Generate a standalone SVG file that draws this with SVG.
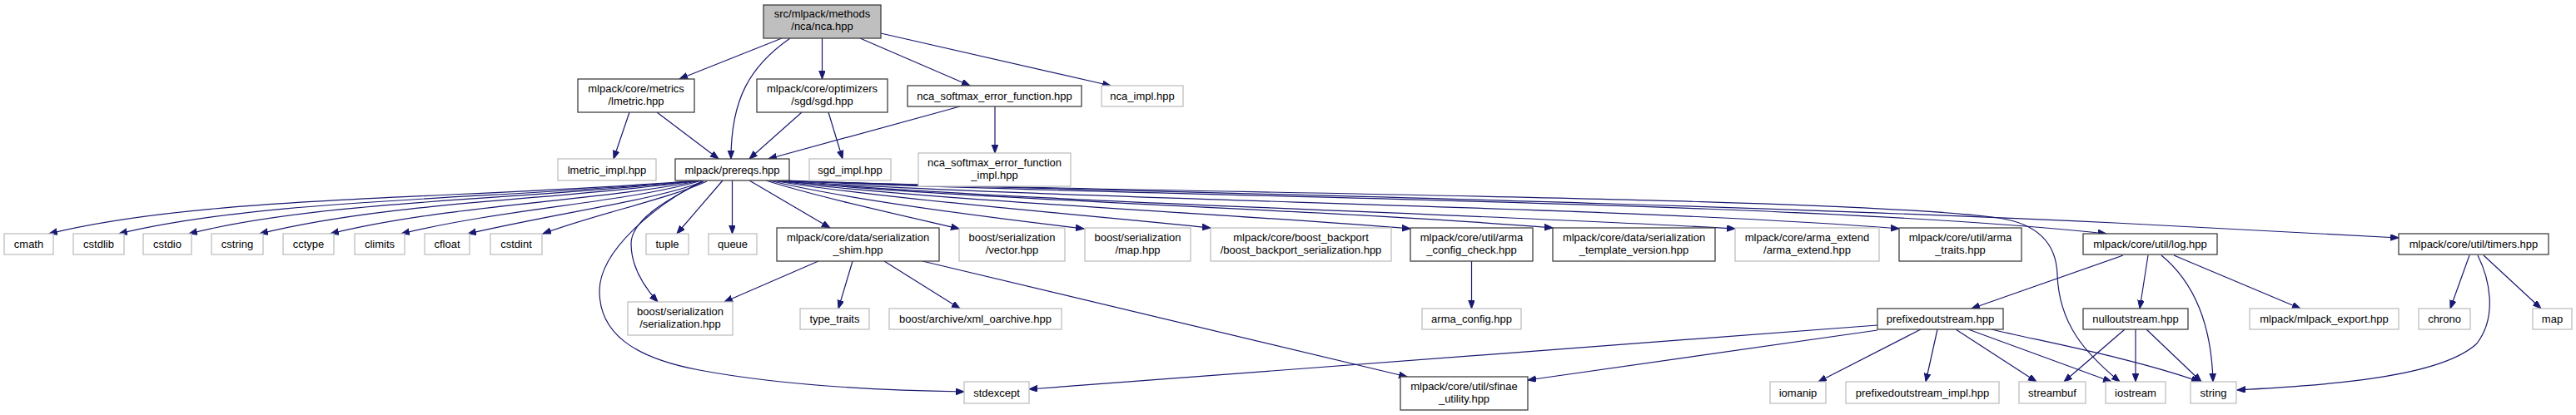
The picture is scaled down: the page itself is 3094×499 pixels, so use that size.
<svg xmlns="http://www.w3.org/2000/svg" width="3094" height="499" viewBox="0 0 3094 499">
<style>
.bg{fill:#ffffff}
.doc rect{fill:#ffffff;stroke:#404040;stroke-width:1.3}
.ext rect{fill:#ffffff;stroke:#bfbfbf;stroke-width:1.3}
.root rect{fill:#bfbfbf;stroke:#404040;stroke-width:1.3}
text{font-family:"Liberation Sans",Arial,sans-serif;font-size:13px;fill:#000000;text-anchor:middle}
#edges path{fill:none;stroke:#191970;stroke-width:1.2;marker-end:url(#ah)}
</style>
<defs>
<marker id="ah" markerWidth="12" markerHeight="9" refX="10" refY="3.8" orient="auto" markerUnits="userSpaceOnUse">
<path d="M0,0 L10,3.8 L0,7.6 z" fill="#191970" stroke="#191970" stroke-width="1"/>
</marker>
</defs>
<rect class="bg" x="0" y="0" width="3094" height="499"/>
<g id="edges">
<path d="M939,46 L816,95"/>
<path d="M949,46 C900,80 878,120 878,191"/>
<path d="M987.5,46 L987.5,95"/>
<path d="M1033,46 L1165,103"/>
<path d="M1058,40 L1334,103"/>
<path d="M756,135 L737,191"/>
<path d="M789,135 L863,191"/>
<path d="M963,135 L900,191"/>
<path d="M995,135 L1012,191"/>
<path d="M1153,128 L923,191"/>
<path d="M1195,128 L1195,184"/>
<path d="M838,217 C560,240 250,234 59,281"/>
<path d="M839,217 C600,240 320,238 143,281"/>
<path d="M840,217 C640,240 390,240 227,281"/>
<path d="M841,217 C680,240 470,242 312,281"/>
<path d="M842,217 C720,242 540,246 397,281"/>
<path d="M843,217 C750,244 610,250 482,281"/>
<path d="M845,218 C790,240 680,254 562,281"/>
<path d="M849,218 C800,240 720,256 652,281"/>
<path d="M845,218 C800,240 758,265 758,293 C758,320 772,343 790,363"/>
<path d="M843,218 C790,245 720,300 720,350 C720,400 760,430 840,445 C920,460 1020,469 1158,471"/>
<path d="M868,217 L813,281"/>
<path d="M879.5,217 L879.5,281"/>
<path d="M900,217 L997,274"/>
<path d="M920,217 C980,236 1070,256 1152,275"/>
<path d="M924,217 C1000,236 1150,257 1302,275"/>
<path d="M927,217 C1050,238 1300,258 1454,274"/>
<path d="M930,217 C1100,240 1450,255 1694,275"/>
<path d="M932,217 C1150,240 1600,252 1865,274"/>
<path d="M934,217 C1200,242 1800,258 2084,275"/>
<path d="M936,217 C1250,240 1950,248 2281,275"/>
<path d="M938,217 C1300,236 2150,240 2530,281"/>
<path d="M940,217 C1300,232 2200,235 2400,262 C2455,270 2470,300 2471,330 C2473,390 2505,425 2546,459"/>
<path d="M944,217 C1200,228 1900,238 2540,268 C2700,276 2800,281 2881,286"/>
<path d="M983,314 L870,363"/>
<path d="M1024,314 L1007,371"/>
<path d="M1062,314 L1153,371"/>
<path d="M1108,314 L1690,453"/>
<path d="M1767.5,314 L1767.5,371"/>
<path d="M2550,307 L2368,371"/>
<path d="M2580,307 L2570,371"/>
<path d="M2596,307 C2630,335 2656,380 2658,459"/>
<path d="M2611,307 L2763,371"/>
<path d="M2966,307 L2943,371"/>
<path d="M2983,307 L3052,371"/>
<path d="M2976,307 C2990,335 3000,380 2975,413 C2930,455 2790,463 2687,469"/>
<path d="M2255,391 L1236,468"/>
<path d="M2255,397 L1835,457"/>
<path d="M2307,396 L2184,459"/>
<path d="M2327,396 L2313,459"/>
<path d="M2349,396 L2446,459"/>
<path d="M2364,396 L2536,459"/>
<path d="M2392,396 C2450,410 2560,430 2642,459"/>
<path d="M2552,396 L2479,459"/>
<path d="M2565,396 L2565,459"/>
<path d="M2578,396 L2644,459"/>
</g>
<g id="n_root" class="root"><rect x="917" y="6" width="141" height="40"/><text x="987.5" y="21">src/mlpack/methods</text><text x="987.5" y="36">/nca/nca.hpp</text></g>
<g id="n_lmetric" class="doc"><rect x="694" y="95" width="140" height="40"/><text x="764" y="110.5">mlpack/core/metrics</text><text x="764" y="125.5">/lmetric.hpp</text></g>
<g id="n_sgd" class="doc"><rect x="909" y="95" width="157" height="40"/><text x="987.5" y="110.5">mlpack/core/optimizers</text><text x="987.5" y="125.5">/sgd/sgd.hpp</text></g>
<g id="n_ncasoft" class="doc"><rect x="1090" y="103" width="209" height="25"/><text x="1194.5" y="120">nca_softmax_error_function.hpp</text></g>
<g id="n_ncaimpl" class="ext"><rect x="1323" y="103" width="98" height="25"/><text x="1372" y="120">nca_impl.hpp</text></g>
<g id="n_lmetricimpl" class="ext"><rect x="670" y="191" width="118" height="26"/><text x="729" y="208.5">lmetric_impl.hpp</text></g>
<g id="n_prereqs" class="doc"><rect x="811" y="191" width="137" height="26"/><text x="879.5" y="208.5">mlpack/prereqs.hpp</text></g>
<g id="n_sgdimpl" class="ext"><rect x="972" y="191" width="98" height="26"/><text x="1021" y="208.5">sgd_impl.hpp</text></g>
<g id="n_ncasoftimpl" class="ext"><rect x="1103" y="184" width="183" height="40"/><text x="1194.5" y="199.5">nca_softmax_error_function</text><text x="1194.5" y="214.5">_impl.hpp</text></g>
<g id="n_cmath" class="ext"><rect x="5" y="281" width="59" height="25"/><text x="34.5" y="298">cmath</text></g>
<g id="n_cstdlib" class="ext"><rect x="88" y="281" width="61" height="25"/><text x="118.5" y="298">cstdlib</text></g>
<g id="n_cstdio" class="ext"><rect x="172" y="281" width="58" height="25"/><text x="201" y="298">cstdio</text></g>
<g id="n_cstring" class="ext"><rect x="254" y="281" width="62" height="25"/><text x="285" y="298">cstring</text></g>
<g id="n_cctype" class="ext"><rect x="340" y="281" width="61" height="25"/><text x="370.5" y="298">cctype</text></g>
<g id="n_climits" class="ext"><rect x="426" y="281" width="60" height="25"/><text x="456" y="298">climits</text></g>
<g id="n_cfloat" class="ext"><rect x="510" y="281" width="54" height="25"/><text x="537" y="298">cfloat</text></g>
<g id="n_cstdint" class="ext"><rect x="589" y="281" width="62" height="25"/><text x="620" y="298">cstdint</text></g>
<g id="n_tuple" class="ext"><rect x="776" y="281" width="51" height="25"/><text x="801.5" y="298">tuple</text></g>
<g id="n_queue" class="ext"><rect x="851" y="281" width="58" height="25"/><text x="880" y="298">queue</text></g>
<g id="n_shim" class="doc"><rect x="933" y="274" width="195" height="40"/><text x="1030.5" y="289.5">mlpack/core/data/serialization</text><text x="1030.5" y="304.5">_shim.hpp</text></g>
<g id="n_vector" class="ext"><rect x="1152" y="274" width="127" height="40"/><text x="1215.5" y="289.5">boost/serialization</text><text x="1215.5" y="304.5">/vector.hpp</text></g>
<g id="n_maphpp" class="ext"><rect x="1303" y="274" width="127" height="40"/><text x="1366.5" y="289.5">boost/serialization</text><text x="1366.5" y="304.5">/map.hpp</text></g>
<g id="n_backport" class="ext"><rect x="1454" y="274" width="217" height="40"/><text x="1562.5" y="289.5">mlpack/core/boost_backport</text><text x="1562.5" y="304.5">/boost_backport_serialization.hpp</text></g>
<g id="n_armacfgchk" class="doc"><rect x="1694" y="274" width="147" height="40"/><text x="1767.5" y="289.5">mlpack/core/util/arma</text><text x="1767.5" y="304.5">_config_check.hpp</text></g>
<g id="n_tmplver" class="doc"><rect x="1865" y="274" width="195" height="40"/><text x="1962.5" y="289.5">mlpack/core/data/serialization</text><text x="1962.5" y="304.5">_template_version.hpp</text></g>
<g id="n_armaext" class="ext"><rect x="2084" y="274" width="173" height="40"/><text x="2170.5" y="289.5">mlpack/core/arma_extend</text><text x="2170.5" y="304.5">/arma_extend.hpp</text></g>
<g id="n_armatraits" class="doc"><rect x="2281" y="274" width="147" height="40"/><text x="2354.5" y="289.5">mlpack/core/util/arma</text><text x="2354.5" y="304.5">_traits.hpp</text></g>
<g id="n_log" class="doc"><rect x="2502" y="281" width="161" height="25"/><text x="2582.5" y="298">mlpack/core/util/log.hpp</text></g>
<g id="n_timers" class="doc"><rect x="2881" y="281" width="180" height="25"/><text x="2971" y="298">mlpack/core/util/timers.hpp</text></g>
<g id="n_serialization" class="ext"><rect x="754" y="363" width="126" height="40"/><text x="817" y="378.5">boost/serialization</text><text x="817" y="393.5">/serialization.hpp</text></g>
<g id="n_typetraits" class="ext"><rect x="961" y="371" width="83" height="25"/><text x="1002.5" y="388">type_traits</text></g>
<g id="n_xml" class="ext"><rect x="1068" y="371" width="207" height="25"/><text x="1171.5" y="388">boost/archive/xml_oarchive.hpp</text></g>
<g id="n_armacfg" class="ext"><rect x="1708" y="371" width="119" height="25"/><text x="1767.5" y="388">arma_config.hpp</text></g>
<g id="n_prefixed" class="doc"><rect x="2255" y="371" width="151" height="25"/><text x="2330.5" y="388">prefixedoutstream.hpp</text></g>
<g id="n_null" class="doc"><rect x="2502" y="371" width="126" height="25"/><text x="2565" y="388">nulloutstream.hpp</text></g>
<g id="n_export" class="ext"><rect x="2702" y="371" width="179" height="25"/><text x="2791.5" y="388">mlpack/mlpack_export.hpp</text></g>
<g id="n_chrono" class="ext"><rect x="2905" y="371" width="62" height="25"/><text x="2936" y="388">chrono</text></g>
<g id="n_map" class="ext"><rect x="3042" y="371" width="47" height="25"/><text x="3065.5" y="388">map</text></g>
<g id="n_stdexcept" class="ext"><rect x="1158" y="459" width="78" height="26"/><text x="1197" y="476.5">stdexcept</text></g>
<g id="n_sfinae" class="doc"><rect x="1682" y="453" width="153" height="40"/><text x="1758.5" y="468.5">mlpack/core/util/sfinae</text><text x="1758.5" y="483.5">_utility.hpp</text></g>
<g id="n_iomanip" class="ext"><rect x="2126" y="459" width="67" height="26"/><text x="2159.5" y="476.5">iomanip</text></g>
<g id="n_prefixedimpl" class="ext"><rect x="2217" y="459" width="184" height="26"/><text x="2309" y="476.5">prefixedoutstream_impl.hpp</text></g>
<g id="n_streambuf" class="ext"><rect x="2425" y="459" width="80" height="26"/><text x="2465" y="476.5">streambuf</text></g>
<g id="n_iostream" class="ext"><rect x="2529" y="459" width="72" height="26"/><text x="2565" y="476.5">iostream</text></g>
<g id="n_string" class="ext"><rect x="2631" y="459" width="55" height="26"/><text x="2658.5" y="476.5">string</text></g>
</svg>
